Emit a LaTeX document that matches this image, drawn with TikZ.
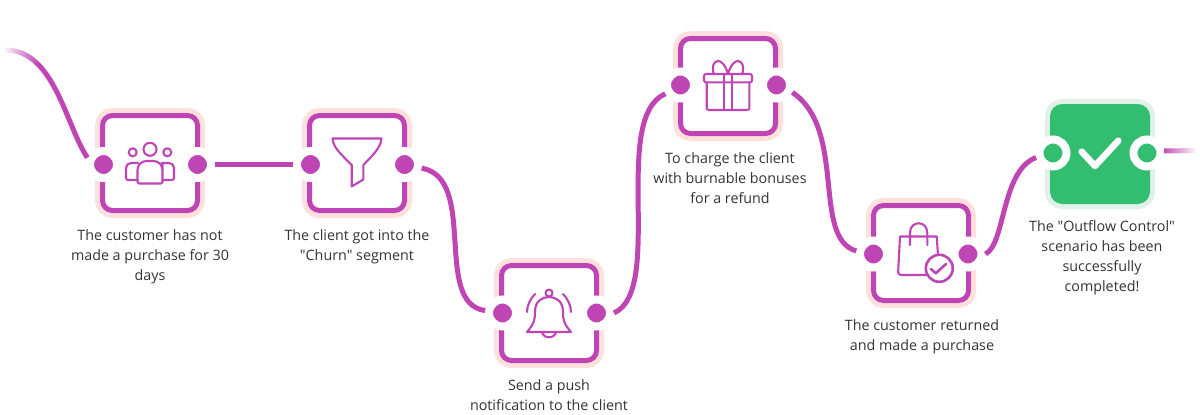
\documentclass[tikz,border=0pt]{standalone}
\usepackage{fontspec}
\newfontfamily\flowfont{Open Sans}
\usetikzlibrary{fadings}
\definecolor{flowpurple}{HTML}{BF45B5}
\definecolor{flowpink}{HTML}{FFE0DC}
\definecolor{flowgreen}{HTML}{33BD70}
\definecolor{flowmint}{HTML}{E0F1E8}
\definecolor{flowtext}{HTML}{333333}
\tikzfading[name=fadein,left color=transparent!100,right color=transparent!0]
\tikzfading[name=fadeout,left color=transparent!0,right color=transparent!100]
\tikzset{
    stepbox/.style={draw=flowpurple,fill=white,line width=5,rectangle,rounded corners=10,minimum size=95,preaction={draw=flowpink,line width=15}},
    donebox/.style={draw=flowgreen,fill=flowgreen,line width=5,rectangle,rounded corners=10,minimum size=95,preaction={draw=flowmint,line width=15}},
    flowdot/.style={draw=white,fill=flowpurple,line width=8,circle,minimum size=27,inner sep=0},
    donedot/.style={flowdot,fill=flowgreen},
    flowline/.style={draw=flowpurple,line width=5},
    iconline/.style={draw=flowpurple,line width=2.1,line join=round,line cap=round},
    caption/.style={anchor=north,align=center,text=flowtext,font=\flowfont\fontsize{14.3}{20}\selectfont},
}
\begin{document}
\begin{tikzpicture}[x=1pt,y=-1pt]
        \useasboundingbox (0,0) rectangle (1200,415);
        %% Boxes
        \node[stepbox] (B1) at (150,163) {};
        \node[stepbox] (B2) at (357,163) {};
        \node[stepbox] (B3) at (549,313) {};
        \node[stepbox] (B4) at (728,86) {};
        \node[stepbox] (B5) at (921,253) {};
        \node[donebox] (B6) at (1100,154) {};
        %% Dots
        \node[flowdot] (L1) at (103.5,164.5) {};
        \node[flowdot] (R1) at (197.5,164.5) {};
        \node[flowdot] (L2) at (310.5,164.5) {};
        \node[flowdot] (R2) at (404.5,164.5) {};
        \node[flowdot] (L3) at (502.5,313) {};
        \node[flowdot] (R3) at (596.5,313) {};
        \node[flowdot] (L4) at (680.5,85) {};
        \node[flowdot] (R4) at (776.5,85) {};
        \node[flowdot] (L5) at (873.5,254) {};
        \node[flowdot] (R5) at (968,254) {};
        \node[donedot] (L6) at (1053,153) {};
        \node[donedot] (R6) at (1147,153) {};
        %% Tails
        \coordinate (tailstart) at (5,50);
        \coordinate (tailjoin) at (35.8,62.2);
        \coordinate (tailbreak) at (1164,151);
        \coordinate (tailend) at (1195,150.5);
        \path[flowline,path fading=fadein] (tailstart) .. controls +(12.5,0) and +(-8.3,-7.5) .. (tailjoin);
        \draw[flowline] (tailjoin) .. controls +(25,22.7) and +(-16.5,-24.75) .. (L1.157);
        \path[flowline,path fading=fadeout] (tailbreak) -- (tailend);
        %% Connectors
        \draw[flowline] (R1) -- (L2);
        \draw[flowline] (R2.-12) .. controls +(57,10) and +(-53,-7) .. (L3.172);
        \draw[flowline] (R3.0) .. controls +(51,-23) and +(-55,24) .. (L4.210);
        \draw[flowline] (R4.-25) .. controls +(55,37) and +(-45,-13) .. (L5.170);
        \draw[flowline] (R5.0) .. controls +(20,-10) and +(-35,13) .. (L6.195);
        %% People
        \begin{scope}[shift={(B1.center)}]
            \draw[iconline] (0,-13.7) circle (6.5);
            \draw[iconline] (-17.3,-10.7) circle (4);
            \draw[iconline] (17.3,-10.7) circle (4);
            \draw[iconline,rounded corners=9] (-12.5,10) -- (-12.5,-2) -- (12.5,-2) -- (12.5,10) [rounded corners=2] -- (12.5,20.5) -- (-12.5,20.5) -- cycle;
            \draw[iconline,rounded corners=5] (-12.5,17) [rounded corners=2] -- (-24,17) [rounded corners=5] -- (-24,0) -- (-12,0);
            \draw[iconline,rounded corners=5] (12.5,17) [rounded corners=2] -- (24,17) [rounded corners=5] -- (24,0) -- (12,0);
        \end{scope}
        %% Funnel
        \begin{scope}[shift={(B2.center)}]
            \draw[iconline] (-24.5,-24.5) -- (24.5,-24.5) .. controls (24,-15) and (14,-6) .. (6.3,2) -- (6.3,16.5) -- (-5.3,23.5) -- (-5.3,2) .. controls (-14,-7) and (-24,-15) .. cycle;
        \end{scope}
        %% Bell
        \begin{scope}[shift={(B3.center)}]
            \draw[iconline] (0,-20) circle (3.5);
            \draw[iconline] (-22,19) -- (22,19) .. controls (14,10) and (14,5) .. (14,-1) .. controls (14,-12) and (7,-16) .. (0,-16) .. controls (-7,-16) and (-14,-12) .. (-14,-1) .. controls (-14,5) and (-14,10) .. cycle;
            \draw[iconline] (-7,19) .. controls (-6,26) and (6,26) .. (7,19);
            \draw[iconline] (-14,-19) .. controls (-19,-14) and (-22,-7) .. (-22,-1);
            \draw[iconline] (14,-19) .. controls (19,-14) and (22,-7) .. (22,-1);
        \end{scope}
        %% Gift
        \begin{scope}[shift={(B4.center)}]
            \draw[iconline,rounded corners=2] (-24,-12) rectangle (24,-3.7);
            \draw[iconline,rounded corners=2] (-21.3,-3.7) -- (-21.3,24) -- (21.3,24) -- (21.3,-3.7);
            \draw[iconline] (-3.8,-12) -- (-3.8,24);
            \draw[iconline] (3.8,-12) -- (3.8,24);
            \draw[iconline] (0,-12) .. controls (-3,-22) and (-7,-25) .. (-10,-25) .. controls (-14,-25) and (-17,-19) .. (-14,-12);
            \draw[iconline] (0,-12) .. controls (3,-22) and (7,-25) .. (10,-25) .. controls (14,-25) and (17,-19) .. (14,-12);
        \end{scope}
        %% Bag
        \begin{scope}[shift={(B5.center)}]
            \draw[iconline,rounded corners=3] (6,22) -- (-23,22) [rounded corners=0] -- (-21,-16.5) -- (15.7,-16.5) -- (17,2);
            \draw[iconline] (-11,-8) -- (-11,-20) .. controls (-11,-33) and (6.3,-33) .. (6.3,-20) -- (6.3,-8);
            \draw[iconline,line width=2.6] (18.3,15.3) circle (13.5);
            \draw[iconline,line width=2.6] (10,16) -- (14.7,20.3) -- (25,11);
        \end{scope}
        %% Check
        \begin{scope}[shift={(B6.center)}]
            \draw[white,line width=6.5,line cap=round,line join=round] (-18.3,-2.3) -- (-5,12) -- (18.3,-13.3);
        \end{scope}
        %% Captions
        \node[caption] (T1) at (150,226) {The customer has not\\made a purchase for 30\\days};
        \node[caption] (T2) at (357,226) {The client got into the\\"Churn" segment};
        \node[caption] (T3) at (549,376) {Send a push\\notification to the client};
        \node[caption] (T4) at (730,149) {To charge the client\\with burnable bonuses\\for a refund};
        \node[caption] (T5) at (922,316) {The customer returned\\and made a purchase};
        \node[caption] (T6) at (1102,217) {The "Outflow Control"\\scenario has been\\successfully\\completed!};
    \end{tikzpicture}
\end{document}
